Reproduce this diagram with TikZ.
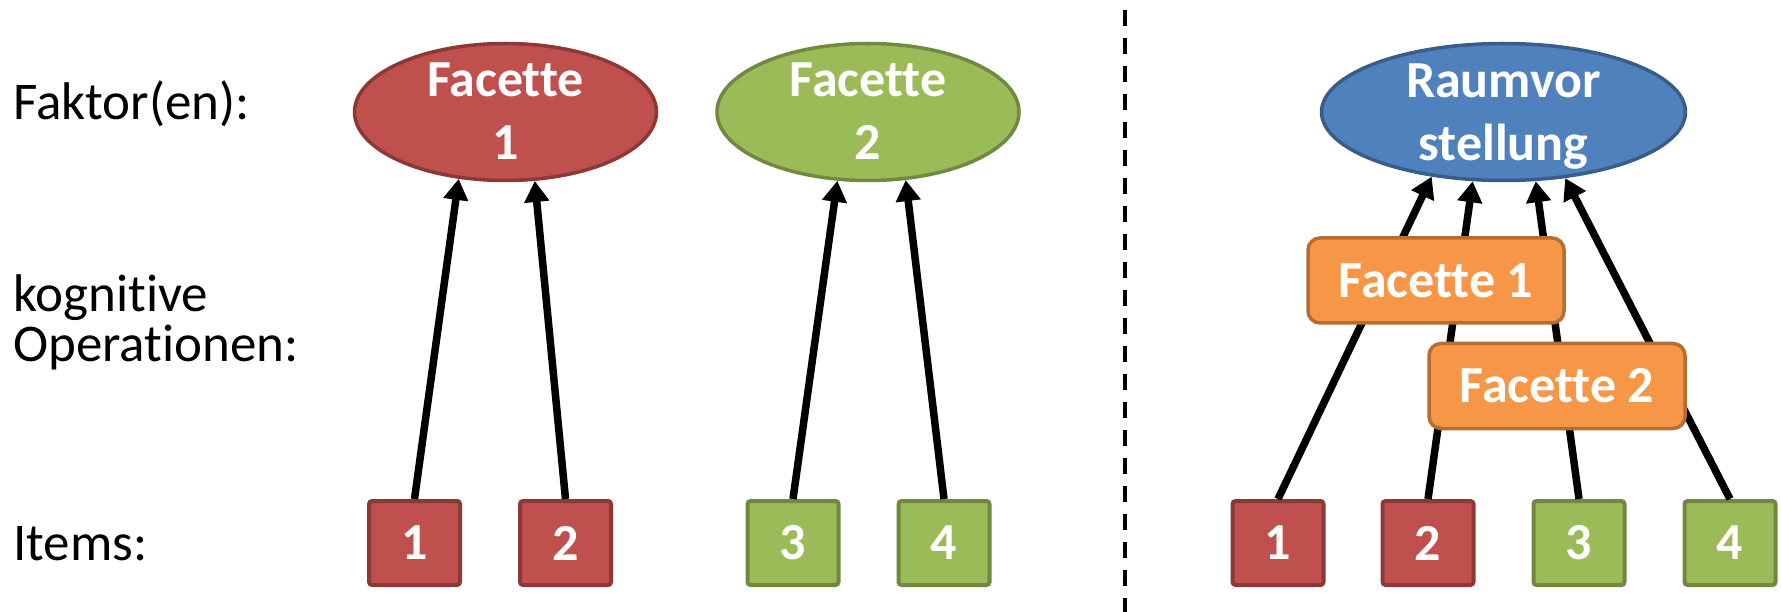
\documentclass[tikz,border=0pt]{standalone}
\usepackage{fontspec}
\setmainfont{Carlito}[Ligatures=CommonOff]
\usetikzlibrary{arrows.meta,shapes.geometric}
\definecolor{redF}{HTML}{C0504D}
\definecolor{redD}{HTML}{8C3836}
\definecolor{grnF}{HTML}{9BBB59}
\definecolor{grnD}{HTML}{71893F}
\definecolor{bluF}{HTML}{4F81BD}
\definecolor{bluD}{HTML}{385D8A}
\definecolor{orF}{HTML}{F79646}
\definecolor{orD}{HTML}{B66D31}
\begin{document}
\begin{tikzpicture}[x=1pt,y=-1pt,
  ell/.style={ellipse, line width=3.5pt, minimum width=302pt, minimum height=137pt, inner sep=0pt},
  etext/.style={align=center, text=white, inner sep=0pt, font=\fontsize{52}{63}\selectfont\bfseries},
  item/.style={rectangle, rounded corners=3pt, line width=4pt, minimum width=91pt, minimum height=84pt, inner sep=0pt, text=white, font=\fontsize{52}{60}\selectfont\bfseries},
  redbox/.style={item, fill=redF, draw=redD},
  grnbox/.style={item, fill=grnF, draw=grnD},
  facet/.style={rectangle, rounded corners=12pt, fill=orF, draw=orD, line width=3.5pt, minimum width=256pt, minimum height=85pt, inner sep=0pt, text=white, font=\fontsize{52}{60}\selectfont\bfseries},
  arr/.style={-{Triangle[width=24pt,length=21pt]}, line width=7.5pt},
  lab/.style={anchor=base west, inner sep=0pt, font=\fontsize{53}{60}\selectfont},
  divider/.style={line width=4pt, dash pattern=on 16pt off 12pt}
]
\useasboundingbox (0,0) rectangle (1781,612);

% row labels
\node[lab] (l1) at (13,120) {Faktor(en):};
\node[lab] (l2) at (13,312) {kognitive};
\node[lab] (l3) at (13,362) {Operationen:};
\node[lab] (l4) at (13,560) {Items:};

% divider
\coordinate (dtop) at (1125,10);
\coordinate (dbot) at (1125,612);
\draw[divider] (dtop) -- (dbot);

% ellipses
\node[ell, fill=redF, draw=redD] (e1) at (505.5,112) {};
\node[etext] (e1t) at (505.5,111.6) {Facette\\1};
\node[ell, fill=grnF, draw=grnD] (e2) at (868,112) {};
\node[etext] (e2t) at (868,111.6) {Facette\\2};
\node[ell, fill=bluF, draw=bluD, minimum width=364pt] (e3) at (1503.5,112) {};
\node[etext] (e3t) at (1503.5,116.6) {Raumvor\\stellung};

% items left
\node[redbox] (a1) at (414.5,543) {1};
\node[redbox] (a2) at (565.5,543) {2};
\node[grnbox] (a3) at (793,543) {3};
\node[grnbox] (a4) at (944,543) {4};
% items right
\node[redbox] (b1) at (1278,543) {1};
\node[redbox] (b2) at (1428,543) {2};
\node[grnbox] (b3) at (1579,543) {3};
\node[grnbox] (b4) at (1730,543) {4};

% arrows left
\draw[arr] (a1.north) -- (e1.-125);
\draw[arr] (a2.north) -- (e1.-67);
\draw[arr] (a3.north) -- (e2.-114.5);
\draw[arr] (a4.north) -- (e2.-61.4);
% arrows right
\draw[arr] (b1.north) -- (e3.-138.8);
\draw[arr] (b2.north) -- (e3.-114.9);
\draw[arr] (b3.north) -- (e3.-65.1);
\draw[arr] (b4.north) -- (e3.-47);

% facets over arrows
\node[facet] (f1) at (1436,280.5) {Facette 1};
\node[facet] (f2) at (1557,386) {Facette 2};
\end{tikzpicture}
\end{document}
